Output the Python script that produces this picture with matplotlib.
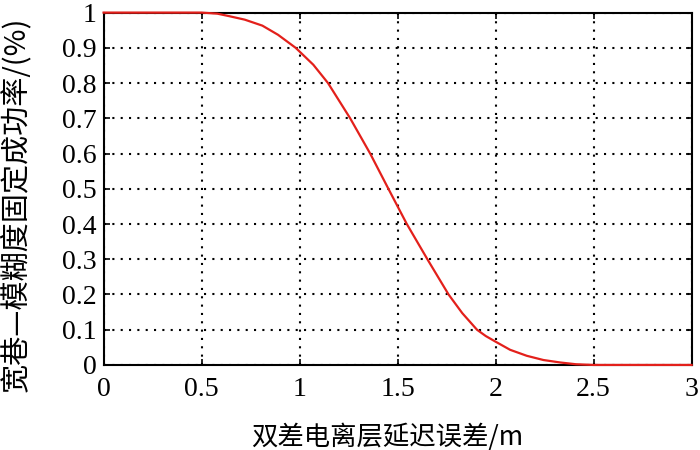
import matplotlib
matplotlib.use("Agg")
import matplotlib.pyplot as plt

# Data
x_err = [0.0, 0.5, 0.58, 0.64, 0.72, 0.81, 0.89, 0.98, 1.07, 1.145, 1.258, 1.36, 1.453,
         1.547, 1.652, 1.76, 1.83, 1.905, 1.95, 2.0, 2.074, 2.159, 2.244, 2.33, 2.41,
         2.5, 3.0]
success = [1.0, 1.0, 0.997, 0.99, 0.98, 0.963, 0.937, 0.90, 0.852, 0.80, 0.70, 0.60, 0.50,
           0.40, 0.30, 0.20, 0.147, 0.10, 0.082, 0.066, 0.043, 0.026, 0.014, 0.007, 0.002,
           0.0, 0.0]

xticks = [0, 0.5, 1, 1.5, 2, 2.5, 3]
xticklabels = ["0", "0.5", "1", "1.5", "2", "2.5", "3"]
yticks = [0, 0.1, 0.2, 0.3, 0.4, 0.5, 0.6, 0.7, 0.8, 0.9, 1.0]
yticklabels = ["0", "0.1", "0.2", "0.3", "0.4", "0.5", "0.6", "0.7", "0.8", "0.9", "1"]
xlabel = "双差电离层延迟误差/m"
ylabel = "宽巷—模糊度固定成功率/(%)"

cjk = ["Noto Sans CJK SC", "DejaVu Sans"]
serif = ["Liberation Serif", "DejaVu Serif"]

fig = plt.figure(figsize=(7, 4.5), dpi=100)
ax = fig.add_axes([0.148, 0.189, 0.84, 0.783])

ax.plot(x_err, success, color="#e3201b", linewidth=1.6, zorder=3, clip_on=False,
        solid_joinstyle="round")

ax.set_xlim(0, 3)
ax.set_ylim(0, 1)
ax.set_xticks(xticks)
ax.set_xticklabels(xticklabels, fontfamily=serif, fontsize=20)
ax.set_yticks(yticks)
ax.set_yticklabels(yticklabels, fontfamily=serif, fontsize=20)

ax.grid(True, color="black", linestyle=(0, (1, 3)), linewidth=1.5)
ax.set_axisbelow(True)

for s in ax.spines.values():
    s.set_linewidth(1.5)
    s.set_color("black")

ax.tick_params(axis="both", direction="in", length=4.5, width=1.2,
               top=True, right=True, colors="black")
ax.tick_params(axis="x", pad=9)
ax.tick_params(axis="y", pad=5)

ax.set_xlabel(xlabel, fontfamily=cjk, fontsize=19)
ax.xaxis.set_label_coords(0.482, -0.165)
ax.set_ylabel(ylabel, fontfamily=cjk, fontsize=21)
ax.yaxis.set_label_coords(-0.123, 0.455)

fig.savefig("out.png", dpi=100)
